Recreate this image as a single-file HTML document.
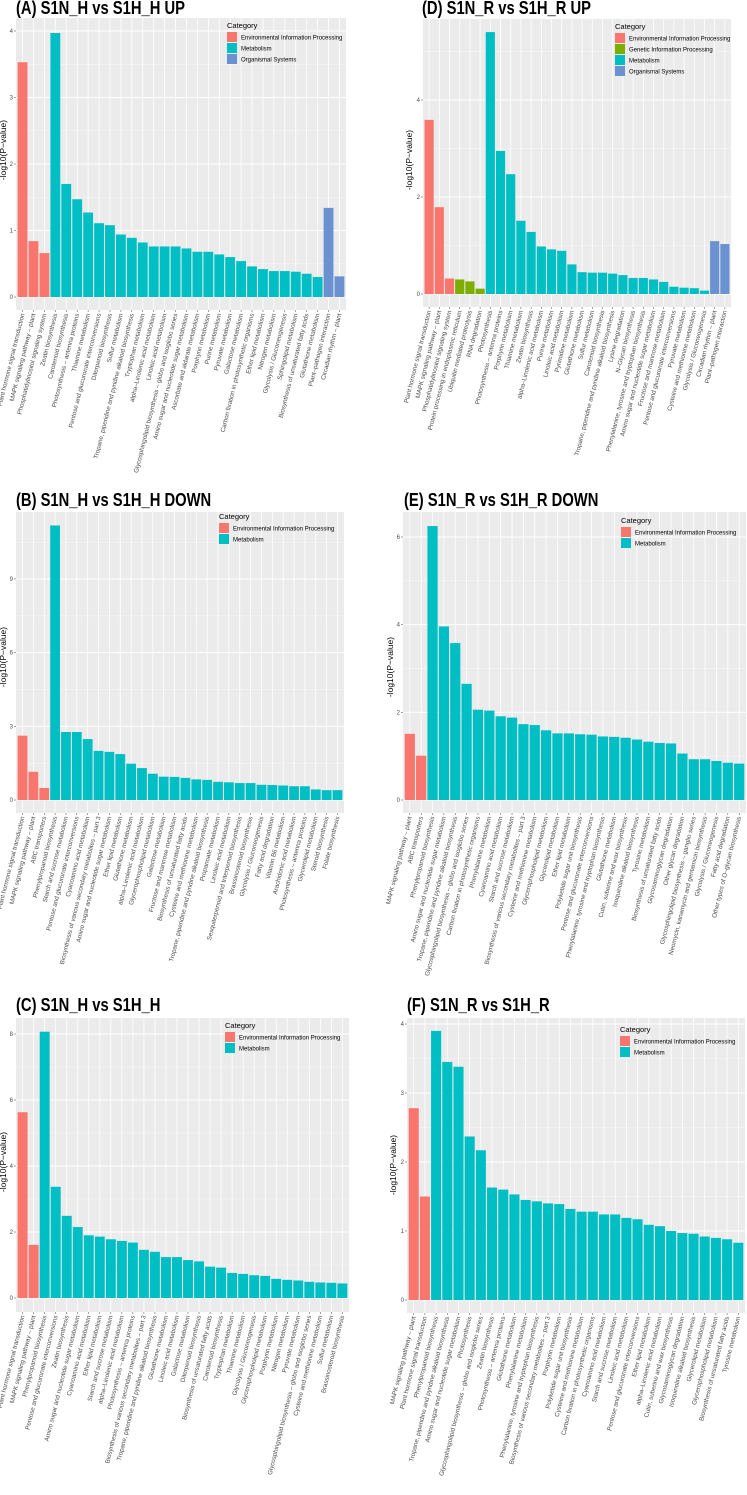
<!DOCTYPE html>
<html><head><meta charset="utf-8"><style>
html,body{margin:0;padding:0;background:#fff;}
svg{display:block;font-family:"Liberation Sans",Arial,sans-serif;}
.title{font-family:"Liberation Sans",sans-serif;font-weight:bold;font-size:18px;fill:#000;}
</style></head><body>
<svg id="fig" width="747" height="1495" viewBox="0 0 747 1495" xmlns="http://www.w3.org/2000/svg"></svg>
<script>
// ---- Panel A data ----
const labelsA = ["Plant hormone signal transduction","MAPK signaling pathway \u2013 plant","Phosphatidylinositol signaling system","Zeatin biosynthesis","Carotenoid biosynthesis","Photosynthesis \u2013 antenna proteins","Thiamine metabolism","Pentose and glucuronate interconversions","Diterpenoid biosynthesis","Sulfur metabolism","Tropane, piperidine and pyridine alkaloid biosynthesis","Tryptophan metabolism","alpha\u2013Linolenic acid metabolism","Linoleic acid metabolism","Glycosphingolipid biosynthesis \u2013 globo and isoglobo series","Amino sugar and nucleotide sugar metabolism","Ascorbate and aldarate metabolism","Porphyrin metabolism","Purine metabolism","Pyruvate metabolism","Galactose metabolism","Carbon fixation in photosynthetic organisms","Ether lipid metabolism","Nitrogen metabolism","Glycolysis / Gluconeogenesis","Sphingolipid metabolism","Biosynthesis of unsaturated fatty acids","Glutathione metabolism","Plant\u2013pathogen interaction","Circadian rhythm \u2013 plant"];
const valuesA = [3.53,0.84,0.66,3.97,1.70,1.47,1.27,1.11,1.08,0.94,0.89,0.82,0.76,0.76,0.76,0.73,0.68,0.68,0.64,0.60,0.54,0.46,0.42,0.39,0.39,0.38,0.35,0.30,1.34,0.31];
const catsA = ["E","E","E","M","M","M","M","M","M","M","M","M","M","M","M","M","M","M","M","M","M","M","M","M","M","M","M","M","O","O"];
const ticksA = [0,1,2,3,4];
// ---- Panel B data ----
const labelsB = ["Plant hormone signal transduction","MAPK signaling pathway \u2013 plant","ABC transporters","Phenylpropanoid biosynthesis","Starch and sucrose metabolism","Pentose and glucuronate interconversions","Cyanoamino acid metabolism","Biosynthesis of various secondary metabolites \u2013 part 3","Amino sugar and nucleotide sugar metabolism","Ether lipid metabolism","Glutathione metabolism","alpha\u2013Linolenic acid metabolism","Glycerophospholipid metabolism","Galactose metabolism","Fructose and mannose metabolism","Biosynthesis of unsaturated fatty acids","Cysteine and methionine metabolism","Tropane, piperidine and pyridine alkaloid biosynthesis","Propanoate metabolism","Linoleic acid metabolism","Sesquiterpenoid and triterpenoid biosynthesis","Brassinosteroid biosynthesis","Glycolysis / Gluconeogenesis","Fatty acid degradation","Vitamin B6 metabolism","Arachidonic acid metabolism","Photosynthesis \u2013 antenna proteins","Glycerolipid metabolism","Steroid biosynthesis","Folate biosynthesis"];
const valuesB = [2.62,1.15,0.49,11.18,2.77,2.77,2.48,2.00,1.96,1.87,1.48,1.30,1.07,0.95,0.94,0.90,0.84,0.82,0.74,0.72,0.69,0.69,0.62,0.61,0.59,0.56,0.56,0.43,0.40,0.40];
const catsB = ["E","E","E","M","M","M","M","M","M","M","M","M","M","M","M","M","M","M","M","M","M","M","M","M","M","M","M","M","M","M"];
const ticksB = [0,3,6,9];
// ---- Panel C data ----
const labelsC = ["Plant hormone signal transduction","MAPK signaling pathway \u2013 plant","Phenylpropanoid biosynthesis","Pentose and glucuronate interconversions","Zeatin biosynthesis","Amino sugar and nucleotide sugar metabolism","Cyanoamino acid metabolism","Ether lipid metabolism","Starch and sucrose metabolism","alpha\u2013Linolenic acid metabolism","Photosynthesis \u2013 antenna proteins","Biosynthesis of various secondary metabolites \u2013 part 3","Tropane, piperidine and pyridine alkaloid biosynthesis","Glutathione metabolism","Linoleic acid metabolism","Galactose metabolism","Diterpenoid biosynthesis","Biosynthesis of unsaturated fatty acids","Carotenoid biosynthesis","Tryptophan metabolism","Thiamine metabolism","Glycolysis / Gluconeogenesis","Glycerophospholipid metabolism","Porphyrin metabolism","Nitrogen metabolism","Pyruvate metabolism","Glycosphingolipid biosynthesis \u2013 globo and isoglobo series","Cysteine and methionine metabolism","Sulfur metabolism","Brassinosteroid biosynthesis"];
const valuesC = [5.63,1.61,8.07,3.37,2.49,2.15,1.90,1.86,1.78,1.73,1.68,1.46,1.40,1.24,1.24,1.15,1.11,0.95,0.92,0.76,0.73,0.69,0.67,0.58,0.55,0.53,0.49,0.47,0.46,0.44];
const catsC = ["E","E","M","M","M","M","M","M","M","M","M","M","M","M","M","M","M","M","M","M","M","M","M","M","M","M","M","M","M","M"];
const ticksC = [0,2,4,6,8];
// ---- Panel D data ----
const labelsD = ["Plant hormone signal transduction","MAPK signaling pathway \u2013 plant","Phosphatidylinositol signaling system","Protein processing in endoplasmic reticulum","Ubiquitin mediated proteolysis","RNA degradation","Photosynthesis","Photosynthesis \u2013 antenna proteins","Porphyrin metabolism","Thiamine metabolism","Zeatin biosynthesis","alpha\u2013Linolenic acid metabolism","Purine metabolism","Linoleic acid metabolism","Pyrimidine metabolism","Glutathione metabolism","Sulfur metabolism","Carotenoid biosynthesis","Tropane, piperidine and pyridine alkaloid biosynthesis","Lysine degradation","N\u2013Glycan biosynthesis","Phenylalanine, tyrosine and tryptophan biosynthesis","Amino sugar and nucleotide sugar metabolism","Fructose and mannose metabolism","Pentose and glucuronate interconversions","Pyruvate metabolism","Cysteine and methionine metabolism","Glycolysis / Gluconeogenesis","Circadian rhythm \u2013 plant","Plant\u2013pathogen interaction"];
const valuesD = [3.59,1.79,0.32,0.30,0.26,0.11,5.40,2.95,2.47,1.51,1.28,0.98,0.92,0.89,0.61,0.45,0.44,0.44,0.42,0.39,0.33,0.33,0.30,0.25,0.15,0.13,0.12,0.07,1.09,1.03];
const catsD = ["E","E","E","G","G","G","M","M","M","M","M","M","M","M","M","M","M","M","M","M","M","M","M","M","M","M","M","M","O","O"];
const ticksD = [0,2,4];
// ---- Panel E data ----
const labelsE = ["MAPK signaling pathway \u2013 plant","ABC transporters","Phenylpropanoid biosynthesis","Amino sugar and nucleotide sugar metabolism","Tropane, piperidine and pyridine alkaloid biosynthesis","Glycosphingolipid biosynthesis \u2013 globo and isoglobo series","Carbon fixation in photosynthetic organisms","Phenylalanine metabolism","Cyanoamino acid metabolism","Starch and sucrose metabolism","Biosynthesis of various secondary metabolites \u2013 part 3","Cysteine and methionine metabolism","Glycerophospholipid metabolism","Glycerolipid metabolism","Ether lipid metabolism","Polyketide sugar unit biosynthesis","Pentose and glucuronate interconversions","Phenylalanine, tyrosine and tryptophan biosynthesis","Glutathione metabolism","Cutin, suberine and wax biosynthesis","Isoquinoline alkaloid biosynthesis","Tyrosine metabolism","Biosynthesis of unsaturated fatty acids","Glycosaminoglycan degradation","Other glycan degradation","Glycosphingolipid biosynthesis \u2013 ganglio series","Neomycin, kanamycin and gentamicin biosynthesis","Glycolysis / Gluconeogenesis","Fatty acid degradation","Other types of O\u2013glycan biosynthesis"];
const valuesE = [1.51,1.01,6.25,3.96,3.58,2.65,2.06,2.04,1.91,1.88,1.73,1.71,1.59,1.52,1.52,1.50,1.49,1.45,1.44,1.42,1.38,1.33,1.30,1.29,1.06,0.93,0.93,0.89,0.85,0.83];
const catsE = ["E","E","M","M","M","M","M","M","M","M","M","M","M","M","M","M","M","M","M","M","M","M","M","M","M","M","M","M","M","M"];
const ticksE = [0,2,4,6];
// ---- Panel F data ----
const labelsF = ["MAPK signaling pathway \u2013 plant","Plant hormone signal transduction","Phenylpropanoid biosynthesis","Tropane, piperidine and pyridine alkaloid biosynthesis","Amino sugar and nucleotide sugar metabolism","Photosynthesis","Glycosphingolipid biosynthesis \u2013 globo and isoglobo series","Zeatin biosynthesis","Photosynthesis \u2013 antenna proteins","Glutathione metabolism","Phenylalanine metabolism","Phenylalanine, tyrosine and tryptophan biosynthesis","Biosynthesis of various secondary metabolites \u2013 part 3","Porphyrin metabolism","Polyketide sugar unit biosynthesis","Cysteine and methionine metabolism","Carbon fixation in photosynthetic organisms","Cyanoamino acid metabolism","Starch and sucrose metabolism","Linoleic acid metabolism","Pentose and glucuronate interconversions","Ether lipid metabolism","alpha\u2013Linolenic acid metabolism","Cutin, suberine and wax biosynthesis","Glycosaminoglycan degradation","Isoquinoline alkaloid biosynthesis","Glycerolipid metabolism","Glycerophospholipid metabolism","Biosynthesis of unsaturated fatty acids","Tyrosine metabolism"];
const valuesF = [2.78,1.50,3.90,3.45,3.38,2.37,2.17,1.63,1.60,1.53,1.45,1.43,1.40,1.39,1.32,1.28,1.28,1.24,1.24,1.19,1.17,1.09,1.07,1.00,0.97,0.96,0.92,0.90,0.88,0.83];
const catsF = ["E","E","M","M","M","M","M","M","M","M","M","M","M","M","M","M","M","M","M","M","M","M","M","M","M","M","M","M","M","M"];
const ticksF = [0,1,2,3,4];

const COLORS = {E:"#F8766D",G:"#7CAE00",M:"#00BFC4",O:"#6A92D0"};
const CATNAMES = {E:"Environmental Information Processing",G:"Genetic Information Processing",M:"Metabolism",O:"Organismal Systems"};
const NS = "http://www.w3.org/2000/svg";
const svg = document.getElementById('fig');

function mk(tag, attrs, parent, text){
  const e = document.createElementNS(NS, tag);
  for (const k in attrs) e.setAttribute(k, attrs[k]);
  if (text !== undefined) e.textContent = text;
  parent.appendChild(e);
  return e;
}

function panel(id, title, tx, ty, box, zeroY, refVal, refY, labels, values, cats, ticks, leg, ytx, yty){
  const g = mk('g', {}, svg);
  
  
  const t = mk('text', {x:tx, y:ty, class:'title'}, g, title);
  
  
  const w = t.getComputedTextLength();
  if (w > 0){ t.setAttribute('textLength', (w*0.82).toFixed(1)); t.setAttribute('lengthAdjust','spacingAndGlyphs'); }
  const [x0,y0,x1,y1] = box;
  const unit = (zeroY - refY) / refVal;
  const yS = v => zeroY - v * unit;
  const n = labels.length;
  const band = (x1 - x0) / (n + 0.2);
  const xS = i => x0 + band * (i + 0.6);
  const bg = mk('rect', {x:x0, y:y0, width:x1-x0, height:y1-y0, fill:'#EBEBEB'}, g);
  
  
  const step = ticks[1] - ticks[0];
  for (let v = ticks[0] - step/2; yS(v) >= y0; v += step){
    if (yS(v) > y1) continue;
    mk('line', {x1:x0, x2:x1, y1:yS(v), y2:yS(v), stroke:'#F7F7F7', 'stroke-width':0.5}, g);
  }
  ticks.forEach(v => {
    const yy = yS(v);
    const gl = mk('line', {x1:x0, x2:x1, y1:yy, y2:yy, stroke:'#fff', 'stroke-width':1}, g);
    
    
    mk('line', {x1:x0-2, x2:x0, y1:yy, y2:yy, stroke:'#444', 'stroke-width':0.5}, g);
    const tl = mk('text', {x:x0-3, y:yy+2, 'font-size':6, fill:'#4D4D4D', 'text-anchor':'end'}, g, String(v));
    
    
  });
  for (let i = 0; i < n; i++){
    mk('line', {x1:xS(i), x2:xS(i), y1:y0, y2:y1, stroke:'#fff', 'stroke-width':0.8}, g);
  }
  for (let i = 0; i < n; i++){
    const bw = band * 0.9;
    const top = yS(values[i]);
    const r = mk('rect', {x:xS(i)-bw/2, y:top, width:bw, height:zeroY-top, fill:COLORS[cats[i]]}, g);
    
    
    mk('line', {x1:xS(i), x2:xS(i), y1:y1, y2:y1+2, stroke:'#444', 'stroke-width':0.5}, g);
    const xl = mk('text', {x:0, y:0, 'font-size':6.3, fill:'#4D4D4D', 'text-anchor':'end',
      transform:'translate(' + (xS(i)+2) + ',' + (y1+4) + ') rotate(-76)'}, g, labels[i]);
    
    
  }
  const yt = mk('text', {x:0, y:0, 'font-size':8.5, fill:'#000', 'text-anchor':'middle',
    transform:'translate(' + ytx + ',' + yty + ') rotate(-90)'}, g, '-log10(P\u2212value)');
  
  
  const [lx, ly] = leg;
  const lg = mk('g', {}, g);
  
  
  mk('text', {x:lx, y:ly, 'font-size':7.5, fill:'#000'}, lg, 'Category');
  const used = ['E','G','M','O'].filter(c => cats.includes(c));
  used.forEach((c, k) => {
    const ry = ly + 4 + k * 11;
    const e = mk('g', {}, lg);
    
    
    mk('rect', {x:lx, y:ry, width:10, height:10, fill:COLORS[c]}, e);
    mk('text', {x:lx+14, y:ry+7.5, 'font-size':6, fill:'#000'}, e, CATNAMES[c]);
  });
}

panel('a', '(A) S1N_H vs S1H_H UP', 16, 14, [16,18,346,310], 297, 4, 31, labelsA, valuesA, catsA, ticksA, [227,28], 6, 150);
panel('d', '(D) S1N_R vs S1H_R UP', 422, 14, [423,19,731,307], 294, 4, 100, labelsD, valuesD, catsD, ticksD, [615,29], 412, 160);
panel('b', '(B) S1N_H vs S1H_H DOWN', 16, 506, [16,512,344,813], 800, 9, 579, labelsB, valuesB, catsB, ticksB, [219,519], 6, 657);
panel('e', '(E) S1N_R vs S1H_R DOWN', 404, 506, [403,512,746,813], 800, 6, 537, labelsE, valuesE, catsE, ticksE, [621,523], 393, 667);
panel('c', '(C) S1N_H vs S1H_H', 16, 1011, [16,1018,349,1312], 1298, 8, 1034, labelsC, valuesC, catsC, ticksC, [225,1028], 6, 1162);
panel('f', '(F) S1N_R vs S1H_R', 407, 1011, [407,1018,745,1313], 1300, 4, 1024, labelsF, valuesF, catsF, ticksF, [620,1032], 396, 1165);
</script>
</body></html>
